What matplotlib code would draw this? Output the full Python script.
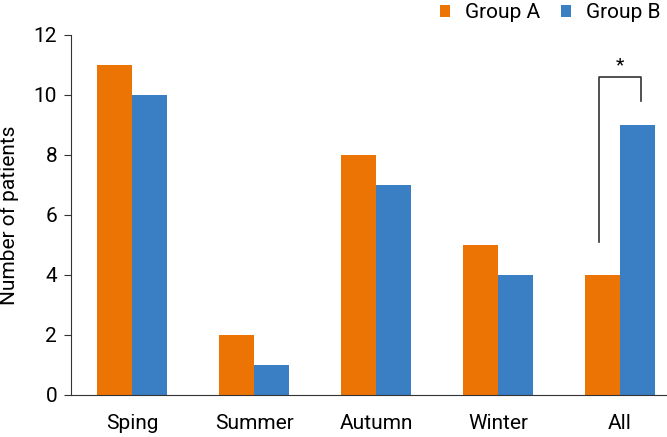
import matplotlib
matplotlib.use("Agg")
import matplotlib.pyplot as plt
import numpy as np

categories = ["Sping", "Summer", "Autumn", "Winter", "All"]
group_a = [11, 2, 8, 5, 4]
group_b = [10, 1, 7, 4, 9]
yticks = [0, 2, 4, 6, 8, 10, 12]

plt.rcParams['font.family'] = ['Roboto', 'DejaVu Sans']

orange = '#EC7404'
blue = '#3A7EC3'

W, H = 667, 437
fig = plt.figure(figsize=(W/100, H/100), dpi=100)
ax = fig.add_axes([71/W, (H-395)/H, 1-71/W, (395-35)/H])

x = np.arange(len(categories))
w = 0.29
ax.bar(x - w/2, group_a, width=w, color=orange, label='Group A')
ax.bar(x + w/2, group_b, width=w, color=blue, label='Group B')

ax.set_xlim(-0.5, 4.385)
ax.set_ylim(0, 12)
ax.set_yticks(yticks)
ax.set_xticks(x)
ax.set_xticklabels(categories, fontsize=15)
ax.tick_params(axis='y', labelsize=15, length=5, direction='out', color='#333333', pad=5)
ax.tick_params(axis='x', length=0, pad=14)
for s in ['top', 'right']:
    ax.spines[s].set_visible(False)
ax.spines['left'].set_color('#333333')
ax.spines['bottom'].set_color('#333333')
ax.set_ylabel('Number of patients', fontsize=15)
ax.yaxis.set_label_coords(-0.088, 0.5)

# significance bracket
xl = 4 - w/2 - 0.03
xr = 4 + w/2 + 0.025
ax.plot([xl, xl, xr, xr], [5.1, 10.6, 10.6, 9.8], color='#333333', lw=1.2)
ax.text((xl + xr)/2, 10.7, '*', ha='center', va='bottom', fontsize=14)

fig.legend(loc='upper right', bbox_to_anchor=(1.018, 1.035), ncol=2, frameon=False,
           fontsize=15, handlelength=0.5, handleheight=0.5, handletextpad=0.7,
           columnspacing=1.0)

fig.savefig('out.png', dpi=100)
